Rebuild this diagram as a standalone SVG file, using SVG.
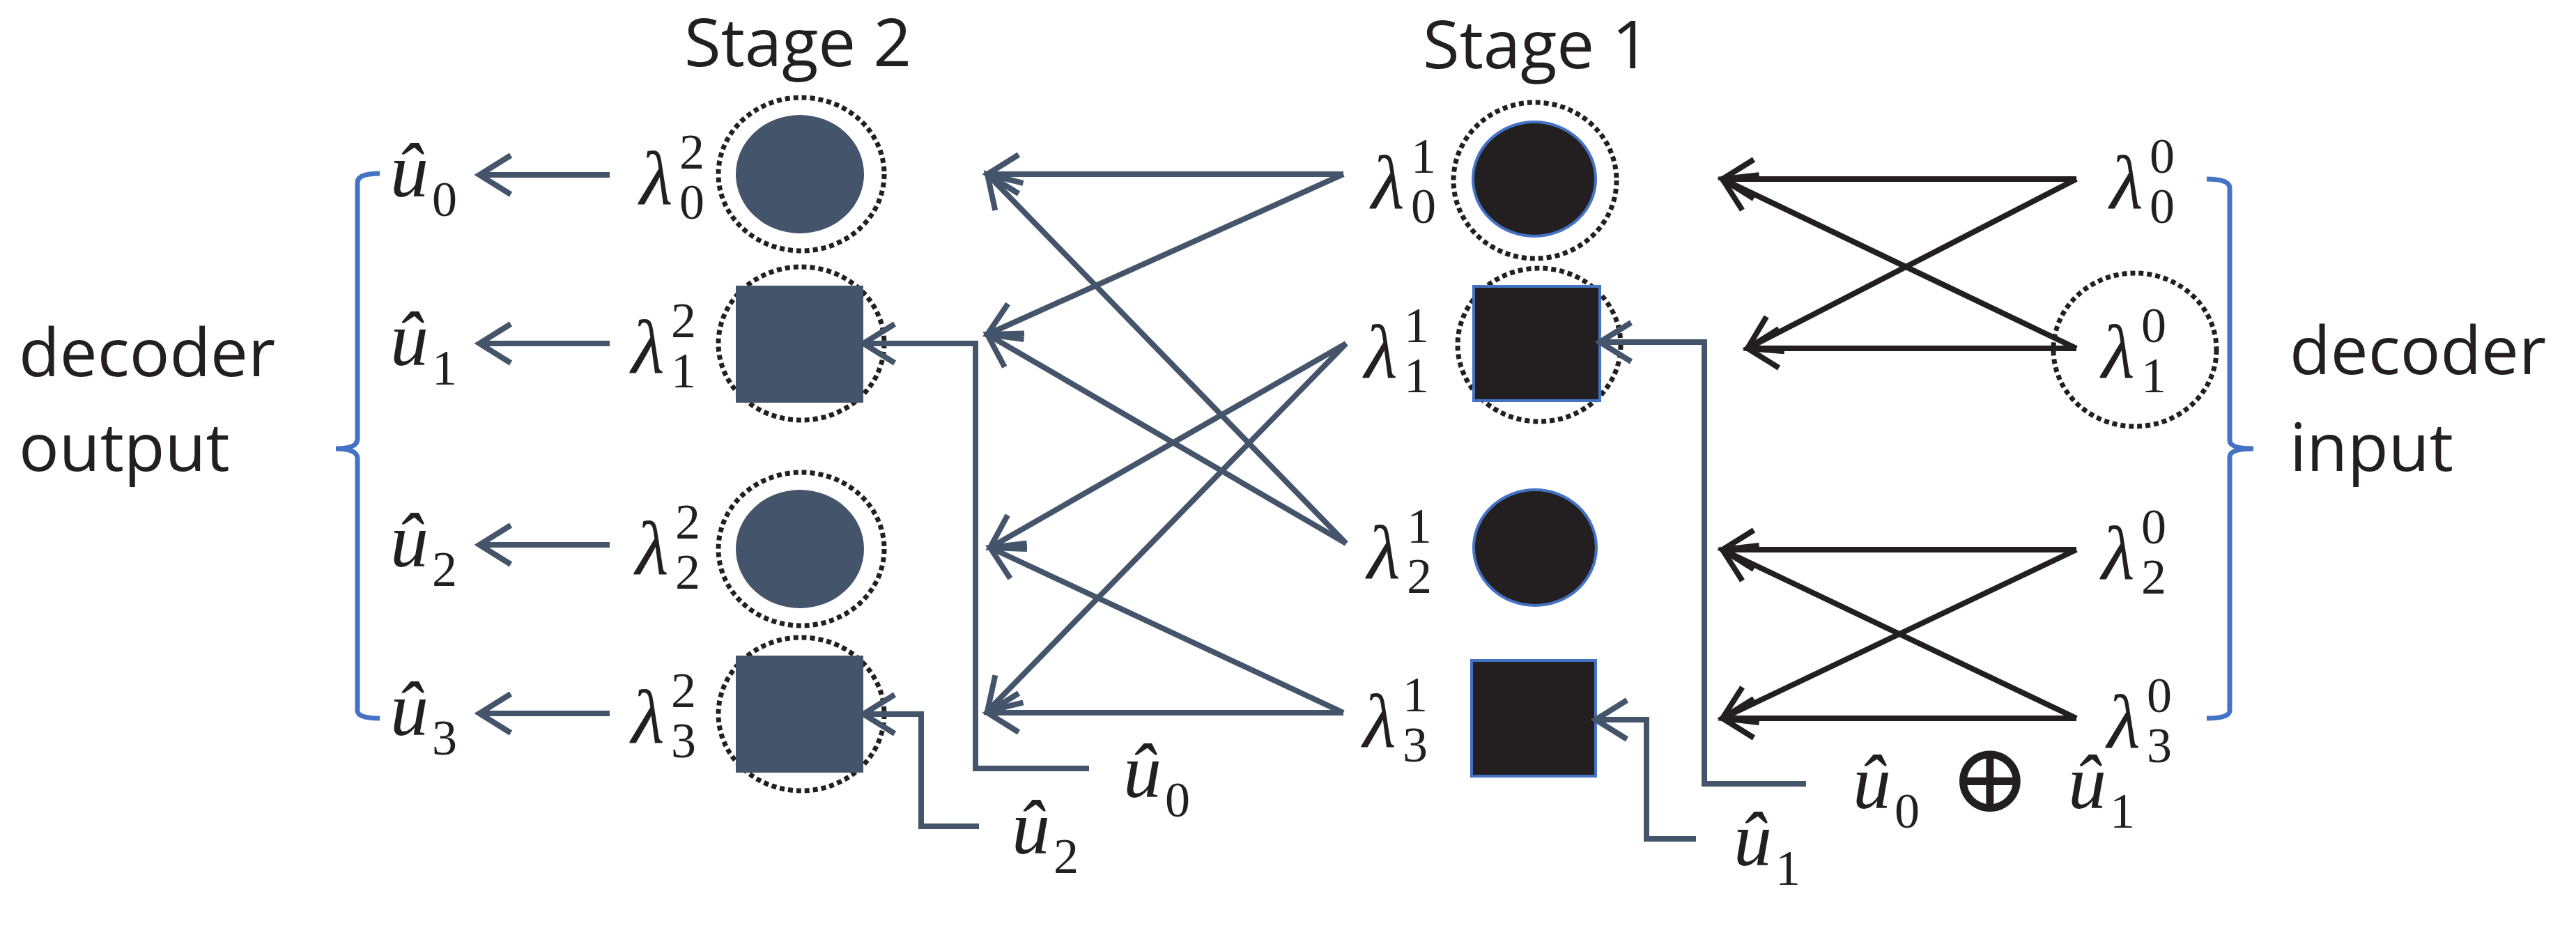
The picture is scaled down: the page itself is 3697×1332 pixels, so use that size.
<svg xmlns="http://www.w3.org/2000/svg" width="3697" height="1332" viewBox="0 0 3697 1332">
<defs>
<style>
.t{font-family:"Open Sans","Liberation Sans",sans-serif;font-size:96px;fill:#231F20}
.m{font-family:"Liberation Serif","DejaVu Serif",serif;font-style:italic;font-size:110px;fill:#231F20}
.s{font-family:"Liberation Serif","DejaVu Serif",serif;font-size:72px;fill:#231F20}
.g{stroke:#44546A;stroke-width:8;fill:none}
.k{stroke:#231F20;stroke-width:8;fill:none}
.b{stroke:#4472C4;stroke-width:7;fill:none}
.dot{stroke:#231F20;stroke-width:7;stroke-dasharray:7 5;fill:none}
.n2{fill:#44546A}
.n1{fill:#231F20;stroke:#4472C4;stroke-width:4}
</style>
<marker id="ag" markerUnits="userSpaceOnUse" markerWidth="60" markerHeight="70" refX="50" refY="35" orient="auto" overflow="visible"><path d="M5,7 L50,35 L5,63" fill="none" stroke="#44546A" stroke-width="8"/></marker>
<marker id="ak" markerUnits="userSpaceOnUse" markerWidth="60" markerHeight="70" refX="50" refY="35" orient="auto" overflow="visible"><path d="M5,7 L50,35 L5,63" fill="none" stroke="#231F20" stroke-width="8"/></marker>
</defs>
<text class="t" x="982" y="95">Stage 2</text>
<text class="t" x="2042" y="98">Stage 1</text>
<text class="t" x="27" y="540">decoder</text>
<text class="t" x="27" y="676">output</text>
<text class="t" x="3286" y="537">decoder</text>
<text class="t" x="3286" y="676">input</text>
<path class="b" d="M545,249 Q513,249 513,262 L513,630 Q513,644 482,644 Q513,644 513,658 L513,1020 Q513,1031 545,1031"/>
<path class="b" d="M3167,257 Q3200,257 3200,270 L3200,632 Q3200,644 3234,644 Q3200,644 3200,656 L3200,1020 Q3200,1031 3167,1031"/>
<g id="out0"><text class="m" x="560" y="282">û</text><text class="s" x="620" y="310">0</text></g>
<g id="out1"><text class="m" x="560" y="524">û</text><text class="s" x="620" y="552">1</text></g>
<g id="out2"><text class="m" x="560" y="813">û</text><text class="s" x="620" y="841">2</text></g>
<g id="out3"><text class="m" x="560" y="1055">û</text><text class="s" x="620" y="1083">3</text></g>
<g id="s2n0"><text class="m" x="918" y="293">λ</text><text class="s" x="975" y="242">2</text><text class="s" x="975" y="314">0</text><ellipse cx="1150" cy="250" rx="119" ry="110" class="dot"/><ellipse cx="1148" cy="250" rx="92" ry="85" class="n2"/></g>
<g id="s2n1"><text class="m" x="906" y="535">λ</text><text class="s" x="963" y="484">2</text><text class="s" x="963" y="556">1</text><ellipse cx="1150" cy="493" rx="119" ry="110" class="dot"/><rect x="1056" y="410" width="183" height="168" class="n2"/></g>
<g id="s2n2"><text class="m" x="912" y="824">λ</text><text class="s" x="969" y="773">2</text><text class="s" x="969" y="845">2</text><ellipse cx="1150" cy="788" rx="119" ry="110" class="dot"/><ellipse cx="1148" cy="788" rx="92" ry="85" class="n2"/></g>
<g id="s2n3"><text class="m" x="906" y="1066">λ</text><text class="s" x="963" y="1015">2</text><text class="s" x="963" y="1087">3</text><ellipse cx="1150" cy="1025" rx="119" ry="110" class="dot"/><rect x="1056" y="941" width="183" height="168" class="n2"/></g>
<g id="s1n0"><text class="m" x="1968" y="299">λ</text><text class="s" x="2025" y="248">1</text><text class="s" x="2025" y="320">0</text><ellipse cx="2203" cy="259" rx="117" ry="112" class="dot"/><ellipse cx="2202" cy="257" rx="88" ry="82" class="n1"/></g>
<g id="s1n1"><text class="m" x="1958" y="542">λ</text><text class="s" x="2015" y="491">1</text><text class="s" x="2015" y="563">1</text><ellipse cx="2209" cy="495" rx="117" ry="110" class="dot"/><rect x="2115" y="411" width="181" height="164" class="n1"/></g>
<g id="s1n2"><text class="m" x="1962" y="830">λ</text><text class="s" x="2019" y="779">1</text><text class="s" x="2019" y="851">2</text><ellipse cx="2203" cy="786" rx="88" ry="83" class="n1"/></g>
<g id="s1n3"><text class="m" x="1956" y="1072">λ</text><text class="s" x="2013" y="1021">1</text><text class="s" x="2013" y="1093">3</text><rect x="2112" y="948" width="178" height="166" class="n1"/></g>
<g id="in0"><text class="m" x="3028" y="299">λ</text><text class="s" x="3085" y="248">0</text><text class="s" x="3085" y="320">0</text></g>
<g id="in1"><text class="m" x="3016" y="542">λ</text><text class="s" x="3073" y="491">0</text><text class="s" x="3073" y="563">1</text><ellipse cx="3064" cy="502" rx="117" ry="110" class="dot"/></g>
<g id="in2"><text class="m" x="3016" y="831">λ</text><text class="s" x="3073" y="780">0</text><text class="s" x="3073" y="852">2</text></g>
<g id="in3"><text class="m" x="3024" y="1073">λ</text><text class="s" x="3081" y="1022">0</text><text class="s" x="3081" y="1094">3</text></g>
<g id="fb"><text class="m" x="1452" y="1225">û</text><text class="s" x="1512" y="1253">2</text>
<text class="m" x="1612" y="1144">û</text><text class="s" x="1672" y="1172">0</text>
<text class="m" x="2488" y="1242">û</text><text class="s" x="2548" y="1270">1</text>
<text class="m" x="2659" y="1160">û</text><text class="s" x="2719" y="1188">0</text>
<text x="2856" y="1165" font-family="Liberation Serif,DejaVu Serif,serif" font-size="140" fill="#231F20" text-anchor="middle">⊕</text>
<text class="m" x="2968" y="1160">û</text><text class="s" x="3028" y="1188">1</text></g>
<g id="connectors">
<g class="g" marker-end="url(#ag)">
<path d="M875,251 H688"/><path d="M875,493 H688"/><path d="M875,782 H688"/><path d="M875,1024 H688"/>
<path d="M1928,250 H1417"/><path d="M1928,250 L1417,480"/>
<path d="M1932,780 L1417,250"/><path d="M1932,780 L1417,480"/>
<path d="M1932,493 L1421,786"/><path d="M1932,493 L1417,1021"/>
<path d="M1928,1023 L1421,786"/><path d="M1928,1023 H1417"/>
<path d="M1563,1103 H1400 V493 H1239"/>
<path d="M1405,1186 H1322 V1025 H1239"/>
<path d="M2592,1125 H2446 V491 H2296"/>
<path d="M2434,1204 H2363 V1033 H2290"/>
</g>
<g class="k" marker-end="url(#ak)">
<path d="M2980,257 H2472"/><path d="M2980,257 L2508,500"/>
<path d="M2980,500 L2472,257"/><path d="M2980,500 H2508"/>
<path d="M2980,789 H2472"/><path d="M2980,789 L2472,1031"/>
<path d="M2980,1031 L2472,789"/><path d="M2980,1031 H2472"/>
</g>
</g>
</svg>
